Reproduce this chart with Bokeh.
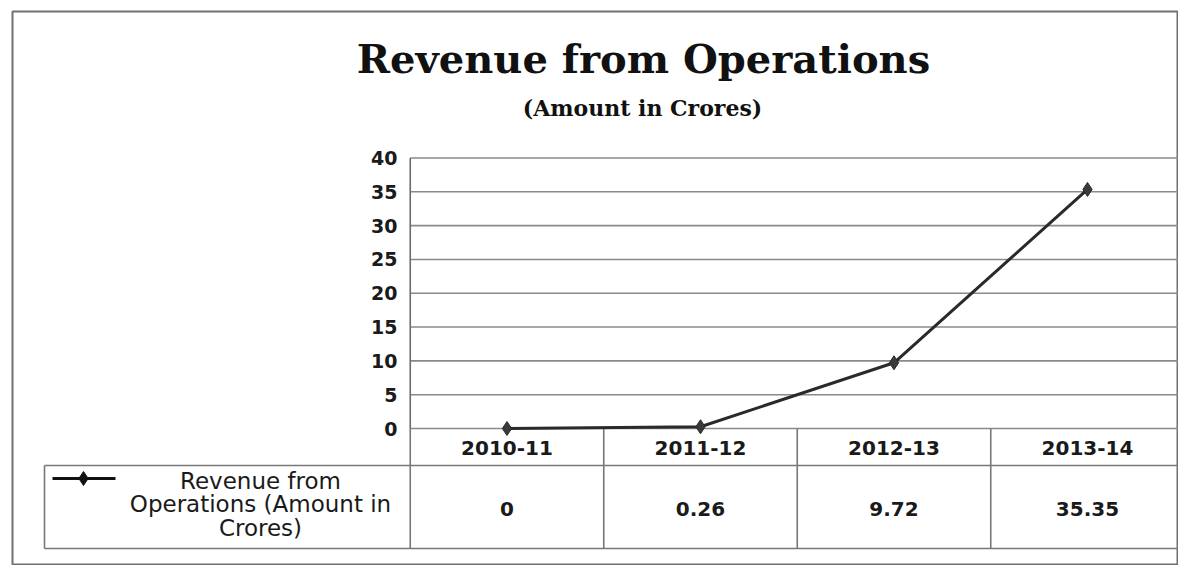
from bokeh.plotting import figure
from bokeh.models import Range1d
from bokeh.core.properties import value
from bokeh.embed import file_html
from bokeh.resources import INLINE

# ---- data ----
title_text = "Revenue from Operations"
subtitle_text = "(Amount in Crores)"
categories = ["2010-11", "2011-12", "2012-13", "2013-14"]
revenue = [0, 0.26, 9.72, 35.35]
series_label_lines = ["Revenue from", "Operations (Amount in", "Crores)"]
y_ticks = [0, 5, 10, 15, 20, 25, 30, 35, 40]

# ---- layout (canvas pixels) ----
W, H = 1178, 565
FL, FR, FT, FB = 12, 1178, 11, 565      # frame edges on the canvas
CAT0, CATW = 506.5, 193.5               # first category centre, category width
Y0, PXU = 428.0, 6.7625                 # canvas y of value 0, pixels per unit

p = figure(width=W, height=H, output_backend="svg", toolbar_location=None,
           x_axis_type=None, y_axis_type=None,
           min_border_left=FL, min_border_right=W - FR,
           min_border_top=FT, min_border_bottom=H - FB,
           x_range=Range1d(-(CAT0 - FL) / CATW, (FR - CAT0) / CATW),
           y_range=Range1d(-(FB - Y0) / PXU, (Y0 - FT) / PXU))
p.extra_x_ranges = {"px": Range1d(FL, FR)}
p.extra_y_ranges = {"px": Range1d(FB, FT)}
p.grid.visible = False
p.outline_line_color = "#707070"
p.outline_line_width = 2
p.background_fill_color = "white"
p.border_fill_color = "white"

n = len(categories)
xs = list(range(n))
left_edge, right_edge = -0.5, n - 0.5
grid_col = "#8a8a8a"
table_col = "#777777"

# horizontal gridlines
p.segment(x0=[left_edge] * len(y_ticks), x1=[right_edge] * len(y_ticks),
          y0=y_ticks, y1=y_ticks, line_color=grid_col, line_width=1.6)
# plot-area left border
p.segment(x0=[left_edge], x1=[left_edge], y0=[0], y1=[max(y_ticks)],
          line_color="#6a6a6a", line_width=1.6)

# y tick labels
p.text(x=[397] * len(y_ticks), y=y_ticks, text=[str(t) for t in y_ticks],
       x_range_name="px", text_align="right", text_baseline="middle",
       text_font=value("DejaVu Sans"), text_font_style="bold",
       text_font_size="19px", text_color="#1a1a1a")

# ---- data table ----
LEG_LEFT = left_edge - (CAT0 - CATW / 2 - 44) / CATW
HDR_TOP, HDR_BOT, TBL_BOT = Y0, 465, 548
# vertical lines of the category columns
p.segment(x0=[left_edge + i for i in range(n + 1)], x1=[left_edge + i for i in range(n + 1)],
          y0=[HDR_TOP] * (n + 1), y1=[TBL_BOT] * (n + 1), y_range_name="px",
          line_color=table_col, line_width=1.6)
# legend box left edge
p.segment(x0=[LEG_LEFT], x1=[LEG_LEFT], y0=[HDR_BOT], y1=[TBL_BOT], y_range_name="px",
          line_color=table_col, line_width=1.6)
# header bottom & table bottom
p.segment(x0=[LEG_LEFT, LEG_LEFT], x1=[right_edge, right_edge], y0=[HDR_BOT, TBL_BOT],
          y1=[HDR_BOT, TBL_BOT], y_range_name="px", line_color=table_col, line_width=1.6)

# header labels
p.text(x=xs, y=[447] * n, text=categories, y_range_name="px",
       text_align="center", text_baseline="middle",
       text_font=value("DejaVu Sans"), text_font_style="bold",
       text_font_size="20px", text_color="#1a1a1a")
# values row
p.text(x=xs, y=[508] * n, text=[f"{v:g}" for v in revenue], y_range_name="px",
       text_align="center", text_baseline="middle",
       text_font=value("DejaVu Sans"), text_font_style="bold",
       text_font_size="20px", text_color="#1a1a1a")

# legend key
p.line(x=[52, 115], y=[478, 478], x_range_name="px", y_range_name="px",
       line_color="#111111", line_width=3)
p.scatter(x=[83], y=[478], marker="diamond", size=14, x_range_name="px", y_range_name="px",
          fill_color="#111111", line_color="#111111")
p.text(x=[260] * len(series_label_lines), y=[480, 503.5, 527], text=series_label_lines,
       x_range_name="px", y_range_name="px", text_align="center", text_baseline="middle",
       text_font=value("DejaVu Sans"), text_font_size="23px", text_color="#1a1a1a")

# ---- series ----
p.line(x=xs, y=revenue, line_color="#2a2a2a", line_width=3)
p.scatter(x=xs, y=revenue, marker="diamond", size=14,
          fill_color="#3a3a3a", line_color="#2a2a2a")

# ---- titles ----
p.text(x=[643], y=[58], text=[title_text], x_range_name="px", y_range_name="px",
       text_align="center", text_baseline="middle",
       text_font=value("DejaVu Serif"), text_font_style="bold",
       text_font_size="40px", text_color="#111111")
p.text(x=[642], y=[107], text=[subtitle_text], x_range_name="px", y_range_name="px",
       text_align="center", text_baseline="middle",
       text_font=value("DejaVu Serif"), text_font_style="bold",
       text_font_size="22px", text_color="#111111")

open("out.html", "w").write(file_html(p, INLINE))
